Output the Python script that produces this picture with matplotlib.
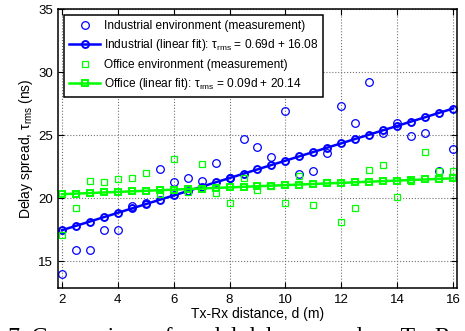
import matplotlib
matplotlib.use("Agg")
import matplotlib.pyplot as plt

plt.rcParams['font.family'] = ['Liberation Sans', 'DejaVu Sans']
plt.rcParams['mathtext.fontset'] = 'custom'
plt.rcParams['mathtext.rm'] = 'Liberation Sans'
plt.rcParams['mathtext.it'] = 'Liberation Sans:italic'

# Tx-Rx distance (m)
distance = [2, 2.5, 3, 3.5, 4, 4.5, 5, 5.5, 6, 6.5, 7, 7.5, 8, 8.5, 9, 9.5,
            10, 10.5, 11, 11.5, 12, 12.5, 13, 13.5, 14, 14.5, 15, 15.5, 16]

# measured rms delay spread (ns)
industrial_meas = [14.0, 15.9, 15.9, 17.5, 17.5, 19.4, 19.6, 22.3, 21.3, 21.6,
                   21.4, 22.8, 21.6, 24.7, 24.05, 23.3, 26.9, 21.9, 22.15, 23.6,
                   27.3, 25.95, 29.2, 25.15, 26.0, 24.95, 25.2, 22.2, 23.9]
office_meas = [17.1, 19.25, 21.4, 21.25, 21.55, 21.6, 22.0, 20.3, 23.1, 20.5,
               22.7, 20.4, 19.65, 21.6, 20.65, 21.0, 19.6, 21.8, 19.5, 21.3,
               18.1, 19.25, 22.25, 22.6, 20.1, 21.4, 23.7, 22.2, 22.2]

# linear fit values (0.69d + 16.08 and 0.09d + 20.14)
industrial_fit = [17.46, 17.81, 18.15, 18.50, 18.84, 19.19, 19.53, 19.88, 20.22,
                  20.57, 20.91, 21.26, 21.60, 21.95, 22.29, 22.64, 22.98, 23.33,
                  23.67, 24.02, 24.36, 24.71, 25.05, 25.40, 25.74, 26.09, 26.43,
                  26.78, 27.12]
office_fit = [20.32, 20.37, 20.41, 20.46, 20.50, 20.55, 20.59, 20.64, 20.68,
              20.73, 20.77, 20.82, 20.86, 20.91, 20.95, 21.00, 21.04, 21.09,
              21.13, 21.18, 21.22, 21.27, 21.31, 21.36, 21.40, 21.45, 21.49,
              21.54, 21.58]

labels = ['Industrial environment (measurement)',
          'Industrial (linear fit): τ$_{\\rm rms}$ = 0.69d + 16.08',
          'Office environment (measurement)',
          'Office (linear fit): τ$_{\\rm rms}$ = 0.09d + 20.14']

blue = '#0000ff'
green = '#00ff00'

fig = plt.figure(figsize=(4.65, 3.31), dpi=100)
ax = fig.add_axes([0.1254, 0.129, 0.8567, 0.8429])

ax.plot(distance, industrial_meas, 'o', mfc='none', mec=blue, ms=5.5, mew=0.9,
        label=labels[0])
ax.plot(distance, industrial_fit, '-o', color=blue, lw=1.8, mfc='none', mec=blue,
        ms=5, mew=1.4, label=labels[1])
ax.plot(distance, office_meas, 's', mfc='none', mec=green, ms=5, mew=0.9,
        label=labels[2])
ax.plot(distance, office_fit, '-s', color=green, lw=1.8, mfc='none', mec=green,
        ms=5, mew=1.4, label=labels[3])

ax.set_xlim(1.87, 16.13)
ax.set_ylim(12.85, 35)
ax.set_xticks([2, 4, 6, 8, 10, 12, 14, 16])
ax.set_yticks([15, 20, 25, 30, 35])
ax.tick_params(direction='in', top=True, right=True, length=4, width=0.8,
               labelsize=9.5, pad=4)
ax.grid(True, linestyle=':', color='0.45', lw=0.8)
for s in ax.spines.values():
    s.set_linewidth(1.1)

ax.set_xlabel('Tx-Rx distance, d (m)', fontsize=10, labelpad=1)
ax.set_ylabel('Delay spread, τ$_{\\rm rms}$ (ns)', fontsize=10, labelpad=2)

leg = ax.legend(loc='upper left', fontsize=8.6, handlelength=2.6,
                labelspacing=0.45, borderaxespad=0.5, fancybox=False,
                framealpha=1, edgecolor='black', borderpad=0.4,
                handletextpad=0.3)
leg.get_frame().set_linewidth(1.1)

# caption of the page, cut off at the bottom
fig.text(-0.075, -0.035, 'Fig. 7. Comparison of model delay spread vs. Tx-Rx Distance',
         family=['Liberation Serif'], fontsize=17, va='baseline', ha='left')

fig.savefig('out.png', dpi=100)
